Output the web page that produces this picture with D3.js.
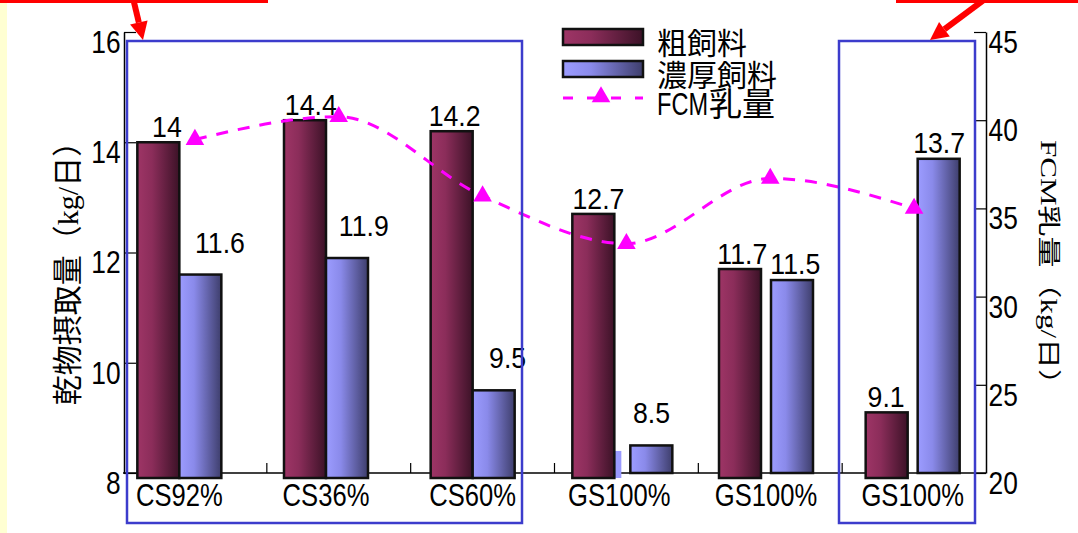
<!DOCTYPE html>
<html>
<head>
<meta charset="utf-8">
<script src="https://cdn.jsdelivr.net/npm/d3@7"></script>
<style>
  body { margin: 0; background: #fff; }
  svg { display: block; }
  text { font-family: "Liberation Sans", Arial, sans-serif; fill: #000; }
  .cjk { font-family: "Noto Sans CJK JP", sans-serif; }
  .serif { font-family: "Liberation Serif", "Times New Roman", serif; }
</style>
</head>
<body>
<svg id="chart" width="1078" height="533"></svg>
<script>
/* Chart data. */
const categories = ['CS92%', 'CS36%', 'CS60%', 'GS100%', 'GS100%', 'GS100%'];
const roughage = [14, 14.4, 14.2, 12.7, 11.7, 9.1];
const concentrate = [11.6, 11.9, 9.5, 8.5, 11.5, 13.7];
const fcmMilk = [38.9, 40.2, 35.7, 33.0, 36.7, 35.0];
const leftTicks = [8, 10, 12, 14, 16];
const rightTicks = [20, 25, 30, 35, 40, 45];
const legendLabels = ['粗飼料', '濃厚飼料', 'FCM乳量'];

const svg = d3.select('#chart');
const idx = d3.range(categories.length);

// axis band (ticks, line points) and bar band (bars, category labels)
const axisX = d3.scaleBand().domain(idx).range([123, 986]);
const barX = d3.scaleBand().domain(idx).range([106, 986]);
const yL = d3.scaleLinear().domain([8, 16]).range([473, 32]);
const yR = d3.scaleLinear().domain([20, 45]).range([473, 32]);
const barW = 42;

/* Gradients */
const defs = svg.append('defs');
function grad(id, stops) {
  const g = defs.append('linearGradient').attr('id', id)
    .attr('x1', 0).attr('x2', 1).attr('y1', 0).attr('y2', 0);
  stops.forEach(([o, c]) => g.append('stop').attr('offset', o).attr('stop-color', c));
}
grad('gMaroon', [[0, '#9e3566'], [0.35, '#8b2d5a'], [1, '#3c1227']]);
grad('gBlue', [[0, '#9c9cff'], [0.35, '#8a8aea'], [1, '#3e3e6c']]);

// left pale strip
svg.append('rect').attr('x', 0).attr('y', 0).attr('width', 7).attr('height', 533)
  .attr('fill', '#ffffd2');

/* Axes */
const tickFont = g => g.selectAll('text')
  .attr('font-size', 31)
  .attr('dy', '0.66em')
  .attr('transform', 'scale(0.85,1)')
  .style('font-family', '"Liberation Sans", Arial, sans-serif');

const gL = svg.append('g').attr('transform', 'translate(124,0)')
  .call(d3.axisLeft(yL).tickValues(leftTicks).tickSizeInner(-12).tickSizeOuter(0).tickPadding(4))
  .call(tickFont);
const gR = svg.append('g').attr('transform', 'translate(986,0)')
  .call(d3.axisRight(yR).tickValues(rightTicks).tickSizeInner(-12).tickSizeOuter(0).tickPadding(3))
  .call(tickFont);
[gL, gR].forEach(g => {
  g.select('.domain').attr('stroke', '#000').attr('stroke-width', 1.5);
  g.selectAll('.tick line').attr('stroke', '#000').attr('stroke-width', 1.2);
});

// category axis
svg.append('line').attr('x1', 123).attr('x2', 986)
  .attr('y1', yL(8)).attr('y2', yL(8)).attr('stroke', '#000').attr('stroke-width', 1.5);
svg.selectAll('.cat-tick').data(idx.slice(1)).enter().append('line')
  .attr('class', 'cat-tick')
  .attr('x1', i => axisX(i)).attr('x2', i => axisX(i))
  .attr('y1', yL(8) - 10).attr('y2', yL(8))
  .attr('stroke', '#000').attr('stroke-width', 1.2);

/* Bars */
const gap = i => (i >= 3 ? 5 : 0);
const cx = i => barX(i) + barX.bandwidth() / 2;
const base = yL(8);

// small artefact sliver next to the 4th group
svg.append('rect')
  .attr('x', cx(3) - gap(3)).attr('y', yL(8.4))
  .attr('width', 7).attr('height', base + 5 - yL(8.4))
  .attr('fill', '#9a9aff');

svg.selectAll('.bar-r').data(roughage).enter().append('rect')
  .attr('class', 'bar-r')
  .attr('x', (d, i) => cx(i) - barW - gap(i))
  .attr('y', d => yL(d))
  .attr('width', barW)
  .attr('height', d => base + 5 - yL(d))
  .attr('fill', 'url(#gMaroon)')
  .attr('stroke', '#111').attr('stroke-width', 2.5);

svg.selectAll('.bar-c').data(concentrate).enter().append('rect')
  .attr('class', 'bar-c')
  .attr('x', (d, i) => cx(i) + gap(i) + (i === 3 ? 6 : 0))
  .attr('y', d => yL(d))
  .attr('width', barW)
  .attr('height', (d, i) => base + (i < 3 ? 5 : 0) - yL(d))
  .attr('fill', 'url(#gBlue)')
  .attr('stroke', '#111').attr('stroke-width', 2.5);

/* Value labels */
const acx = i => axisX(i) + axisX.bandwidth() / 2;
function valueLabel(sel, x, y) {
  sel.attr('transform', (d, i) => `translate(${x(d, i)},${y(d, i)}) scale(0.92,1)`)
    .attr('text-anchor', 'middle').attr('font-size', 29)
    .text(d => d);
}
svg.selectAll('.lab-r').data(roughage).enter().append('text')
  .attr('class', 'lab-r')
  .call(valueLabel, (d, i) => acx(i) - 28, d => yL(d) - 5);
svg.selectAll('.lab-c').data(concentrate).enter().append('text')
  .attr('class', 'lab-c')
  .call(valueLabel, (d, i) => acx(i) + 25, (d, i) => yL(d) - (i < 4 ? 22 : 6));

/* Category labels */
svg.selectAll('.cat').data(categories).enter().append('text')
  .attr('class', 'cat')
  .attr('transform', (d, i) => `translate(${cx(i)},506) scale(0.8,1)`)
  .attr('text-anchor', 'middle').attr('font-size', 32)
  .text(d => d);

/* FCM line */
const line = d3.line()
  .x((d, i) => acx(i))
  .y(d => yR(d))
  .curve(d3.curveMonotoneX);
svg.append('path').datum(fcmMilk)
  .attr('d', line)
  .attr('fill', 'none').attr('stroke', '#ff00ff')
  .attr('stroke-width', 3).attr('stroke-dasharray', '12,10');
const tri = d3.symbol().type(d3.symbolTriangle).size(150);
svg.selectAll('.tri').data(fcmMilk).enter().append('path')
  .attr('class', 'tri')
  .attr('d', tri)
  .attr('transform', (d, i) => `translate(${acx(i)},${yR(d)})`)
  .attr('fill', '#ff00ff');

/* Highlight boxes */
[[127, 522], [839, 975]].forEach(([x0, x1]) => {
  svg.append('rect').attr('x', x0).attr('y', 41)
    .attr('width', x1 - x0).attr('height', 523 - 41)
    .attr('fill', 'none').attr('stroke', '#3c3ccc').attr('stroke-width', 2.5);
});

/* Red arrows */
svg.append('rect').attr('x', 0).attr('y', 0).attr('width', 268).attr('height', 3).attr('fill', '#ff0000');
svg.append('rect').attr('x', 896).attr('y', 0).attr('width', 182).attr('height', 3).attr('fill', '#ff0000');
function arrow(x0, y0, x1, y1) {
  const dx = x1 - x0, dy = y1 - y0, len = Math.hypot(dx, dy);
  const ux = dx / len, uy = dy / len, nx = uy, ny = -ux;
  const bx = x1 - 18 * ux, by = y1 - 18 * uy;
  svg.append('line').attr('x1', x0).attr('y1', y0).attr('x2', bx).attr('y2', by)
    .attr('stroke', '#ff0000').attr('stroke-width', 6);
  svg.append('path')
    .attr('d', `M${x1},${y1}L${bx + 9 * nx},${by + 9 * ny}L${bx - 9 * nx},${by - 9 * ny}Z`)
    .attr('fill', '#ff0000');
}
arrow(133, -2, 143, 40);
arrow(985, -1, 930, 40);

/* Axis titles */
const tL = svg.append('text').attr('transform', 'translate(78,266) rotate(-90)')
  .attr('text-anchor', 'middle').attr('font-size', 30);
tL.append('tspan').attr('class', 'cjk').text('乾物摂取量（');
tL.append('tspan').attr('class', 'serif').text('kg/');
tL.append('tspan').attr('class', 'cjk').text('日）');

const tR = svg.append('text').attr('transform', 'translate(1041,270) rotate(90) scale(1,0.75)')
  .attr('text-anchor', 'middle').attr('font-size', 31);
tR.append('tspan').attr('class', 'serif').text('FCM');
tR.append('tspan').attr('class', 'cjk').text('乳量（');
tR.append('tspan').attr('class', 'serif').text('kg/');
tR.append('tspan').attr('class', 'cjk').text('日）');

/* Legend */
const lg = svg.append('g').attr('transform', 'translate(563,0)');
[['gMaroon', 29], ['gBlue', 61]].forEach(([g, y]) => {
  lg.append('rect').attr('x', 0).attr('y', y).attr('width', 80).attr('height', 16)
    .attr('fill', `url(#${g})`).attr('stroke', '#111').attr('stroke-width', 2.5);
});
lg.append('line').attr('x1', 0).attr('x2', 80).attr('y1', 98).attr('y2', 98)
  .attr('stroke', '#ff00ff').attr('stroke-width', 3).attr('stroke-dasharray', '10,14');
lg.append('path').attr('d', tri).attr('transform', 'translate(38,97)').attr('fill', '#ff00ff');
lg.append('text').attr('class', 'cjk').attr('x', 94).attr('y', 54).attr('font-size', 30).text(legendLabels[0]);
lg.append('text').attr('class', 'cjk').attr('x', 94).attr('y', 86).attr('font-size', 30).text(legendLabels[1]);
lg.append('text').attr('transform', 'translate(94,115) scale(0.76,1)').attr('font-size', 31)
  .text(legendLabels[2].slice(0, 3));
lg.append('text').attr('class', 'cjk').attr('x', 146).attr('y', 116).attr('font-size', 33)
  .text(legendLabels[2].slice(3));
</script>
</body>
</html>
